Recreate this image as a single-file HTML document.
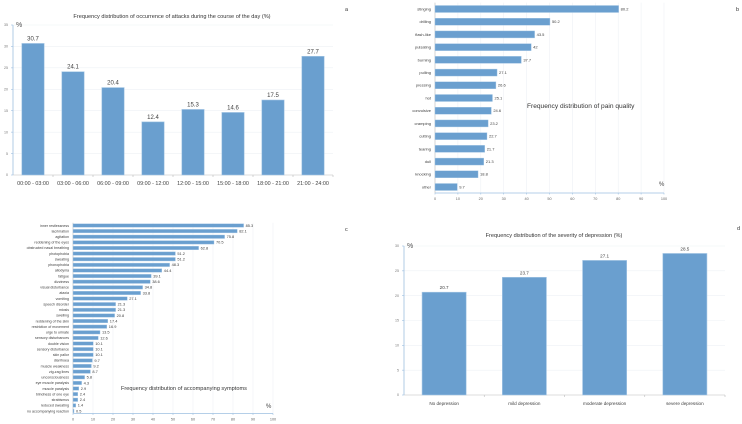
<!DOCTYPE html>
<html><head><meta charset="utf-8">
<style>
html,body{margin:0;padding:0;background:#fff;}
svg{display:block;font-family:"Liberation Sans",sans-serif;}
</style></head>
<body>
<svg id="fig" width="742" height="424" viewBox="0 0 742 424"></svg>
<script>
// Panel a
const aCats=["00:00 - 03:00","03:00 - 06:00","06:00 - 09:00","09:00 - 12:00","12:00 - 15:00","15:00 - 18:00","18:00 - 21:00","21:00 - 24:00"];
const aVals=[30.7,24.1,20.4,12.4,15.3,14.6,17.5,27.7];
const aTicks=[0,5,10,15,20,25,30,35];
// Panel b
const bCats=["stinging","drilling","flash-like","pulsating","burning","pulling","pressing","hot","convulsive","cramping","cutting","tearing","dull","knocking","other"];
const bVals=[80.2,50.2,43.5,42,37.7,27.1,26.6,25.1,24.6,23.2,22.7,21.7,21.3,18.8,9.7];
const bTicks=[0,10,20,30,40,50,60,70,80,90,100];
// Panel c
const cCats=["inner restlessness","lacrimation","agitation","reddening of the eyes","obstructed nasal breathing","photophobia","sweating","phonophobia","allodynia","fatigue","dizziness","visual disturbance","ataxia","vomiting","speech disorder","miosis","swelling","reddening of the skin","restriction of movement","urge to urinate","sensory disturbances","double vision","sensory disturbance","skin pallor","diarrhoea","muscle weakness","zig-zag lines","unconsciousness","eye muscle paralysis","muscle paralysis","blindness of one eye","strabismus","reduced sweating","no accompanying reaction"];
const cVals=[85.3,82.1,75.8,70.5,62.8,51.2,51.2,48.3,44.4,39.1,38.6,34.8,33.8,27.1,21.3,21.3,20.8,17.4,16.9,13.5,12.6,10.1,10.1,10.1,9.7,9.2,8.7,5.8,4.3,2.9,2.4,2.4,1.4,0.5];
const cTicks=[0,10,20,30,40,50,60,70,80,90,100];
// Panel d
const dCats=["No depression","mild depression","moderate depression","severe depression"];
const dVals=[20.7,23.7,27.1,28.5];
const dTicks=[0,5,10,15,20,25,30];

const NS="http://www.w3.org/2000/svg";
const svg=document.getElementById('fig');
const BAR="#6a9fcf", EDGE="#a9c9e6", AX="#9dbfe0", GRID="#eef1f5", TXT="#404040";
function mk(tag,attrs,parent,text){const e=document.createElementNS(NS,tag);for(const k in attrs)e.setAttribute(k,attrs[k]);if(text!==undefined)e.textContent=text;(parent||svg).appendChild(e);return e;}

function vChart(o){
  const g=mk('g',{});
  
  
  const y=v=>o.y0-(v/o.max)*(o.y0-o.yTop);
  const bw=(o.x1-o.x0)/o.cats.length;
  o.ticks.forEach(t=>{
    if(t>0){const gl=mk('line',{x1:o.x0,x2:o.x1,y1:y(t),y2:y(t),stroke:GRID,'stroke-width':0.6},g);}
    const tl=mk('text',{x:o.x0-5,y:y(t)+1.2,'font-size':3.6,fill:'#777','text-anchor':'end'},g,String(t));
    
    mk('line',{x1:o.x0-2,x2:o.x0,y1:y(t),y2:y(t),stroke:AX,'stroke-width':0.6},g);
  });
  const ya=mk('line',{x1:o.x0,x2:o.x0,y1:o.yTop,y2:o.y0,stroke:AX,'stroke-width':0.8},g);
  
  const xa=mk('line',{x1:o.x0,x2:o.x1,y1:o.y0,y2:o.y0,stroke:'#bbb','stroke-width':0.6},g);
  
  o.cats.forEach((c,i)=>{
    const cx=o.x0+bw*(i+0.5), w=bw*o.frac;
    mk('line',{x1:o.x0+bw*(i+1),x2:o.x0+bw*(i+1),y1:o.y0,y2:o.y0+2,stroke:'#bbb','stroke-width':0.6},g);
    const r=mk('rect',{x:cx-w/2,y:y(o.vals[i]),width:w,height:o.y0-y(o.vals[i]),fill:BAR,stroke:EDGE,'stroke-width':0.6},g);
    
    
    const vl=mk('text',{x:cx,y:y(o.vals[i])-3,'font-size':o.vfs,fill:TXT,'text-anchor':'middle'},g,String(o.vals[i]));
    
    const cl=mk('text',{x:cx,y:o.y0+10,'font-size':o.cfs,fill:TXT,'text-anchor':'middle'},g,c);
    
  });
  const pc=mk('text',{x:o.x0+3,y:o.yTop+2,'font-size':7,fill:'#555'},g,'%');
  
  const t=mk('text',{x:o.tx,y:o.ty,'font-size':o.tfs,fill:'#333','text-anchor':'middle'},g,o.title);
  
}

function hChart(o){
  const g=mk('g',{});
  
  
  const x=v=>o.x0+(v/100)*(o.x1-o.x0);
  const n=o.cats.length, step=(o.yLast-o.yFirst)/(n-1);
  o.ticks.forEach(t=>{
    if(t>0){const gl=mk('line',{x1:x(t),x2:x(t),y1:o.yFirst-step/2,y2:o.yAxis,stroke:GRID,'stroke-width':0.6},g);}
    mk('line',{x1:x(t),x2:x(t),y1:o.yAxis,y2:o.yAxis+1.5,stroke:AX,'stroke-width':0.6},g);
    const tl=mk('text',{x:x(t),y:o.yAxis+7,'font-size':3.8,fill:'#666','text-anchor':'middle'},g,String(t));
    
  });
  const xa=mk('line',{x1:o.x0,x2:o.x1,y1:o.yAxis,y2:o.yAxis,stroke:AX,'stroke-width':0.8},g);
  
  const ya=mk('line',{x1:o.x0,x2:o.x0,y1:o.yFirst-step/2,y2:o.yAxis,stroke:'#bbb','stroke-width':0.6},g);
  
  o.cats.forEach((c,i)=>{
    const cy=o.yFirst+step*i, h=step*o.frac;
    const r=mk('rect',{x:o.x0,y:cy-h/2,width:x(o.vals[i])-o.x0,height:h,fill:BAR,stroke:EDGE,'stroke-width':0.4},g);
    
    
    const vl=mk('text',{x:x(o.vals[i])+2,y:cy+o.vfs*0.35,'font-size':o.vfs,fill:TXT},g,String(o.vals[i]));
    
    const cl=mk('text',{x:o.x0-4,y:cy+o.cfs*0.35,'font-size':o.cfs,fill:TXT,'text-anchor':'end'},g,c);
    
  });
  const pc=mk('text',{x:o.px,y:o.py,'font-size':6,fill:'#444'},g,'%');
  
  const t=mk('text',{x:o.tx,y:o.ty,'font-size':o.tfs,fill:'#333'},g,o.title);
  
}

vChart({name:'chart-a',cats:aCats,vals:aVals,ticks:aTicks,max:35,x0:13,x1:333,y0:175,yTop:25,frac:0.56,vfs:6,cfs:5.4,tx:172,ty:18,tfs:5.6,title:'Frequency distribution of occurrence of attacks during the course of the day (%)'});
hChart({name:'chart-b',cats:bCats,vals:bVals,ticks:bTicks,x0:435,x1:664,yFirst:9,yLast:187,yAxis:193,frac:0.55,vfs:4,cfs:4,tx:527,ty:108,tfs:6.6,px:659,py:186,title:'Frequency distribution of pain quality'});
hChart({name:'chart-c',cats:cCats,vals:cVals,ticks:cTicks,x0:73,x1:273,yFirst:225.5,yLast:411,yAxis:413.5,frac:0.62,vfs:3.9,cfs:3.6,tx:121,ty:390,tfs:5.6,px:266,py:408,title:'Frequency distribution of accompanying symptoms'});
vChart({name:'chart-d',cats:dCats,vals:dVals,ticks:dTicks,max:30,x0:404,x1:725,y0:395,yTop:246,frac:0.55,vfs:4.6,cfs:4.6,tx:554,ty:237,tfs:5.6,title:'Frequency distribution of the severity of depression (%)'});

[['a',345,11],['b',736,11],['c',345,231],['d',737,230]].forEach(p=>{
  const l=mk('text',{x:p[1],y:p[2],'font-size':5.5,fill:'#333'},svg,p[0]);
  
  
});
</script>
</body></html>
